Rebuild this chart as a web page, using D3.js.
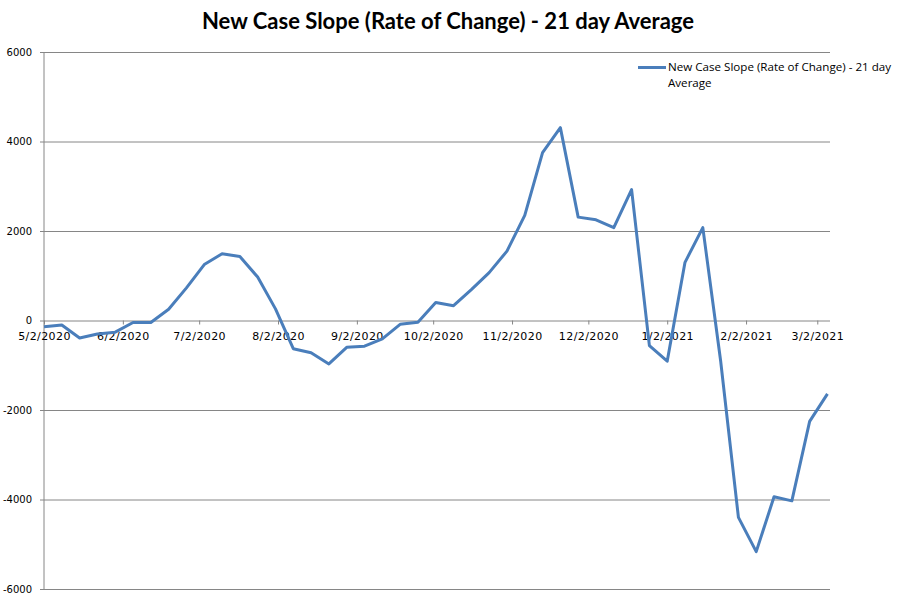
<!DOCTYPE html>
<html>
<head>
  <meta charset="utf-8">
  <title>New Case Slope</title>
  <script src="https://cdn.jsdelivr.net/npm/d3@7"></script>
  <style>
    body { margin: 0; background: #fff; }
    .title { font-family: Lato, "Open Sans", sans-serif; font-weight: bold; font-size: 22px; }
    .tick text { font-family: "DejaVu Sans", Verdana, sans-serif; fill: #000; }
    .y-axis .tick text { font-size: 10px; }
    .x-axis .tick text { font-size: 11px; letter-spacing: 0.4px; }
    .legend text { font-family: "Open Sans", sans-serif; font-size: 11.6px; }
  </style>
</head>
<body>
<script>
// weekly dates (m/d/yyyy) and the 21 day average slope
var weekDates = ["5/2/2020","5/9/2020","5/16/2020","5/23/2020","5/30/2020","6/6/2020","6/13/2020",
  "6/20/2020","6/27/2020","7/4/2020","7/11/2020","7/18/2020","7/25/2020","8/1/2020","8/8/2020",
  "8/15/2020","8/22/2020","8/29/2020","9/5/2020","9/12/2020","9/19/2020","9/26/2020","10/3/2020",
  "10/10/2020","10/17/2020","10/24/2020","10/31/2020","11/7/2020","11/14/2020","11/21/2020",
  "11/28/2020","12/5/2020","12/12/2020","12/19/2020","12/26/2020","1/2/2021","1/9/2021",
  "1/16/2021","1/23/2021","1/30/2021","2/6/2021","2/13/2021","2/20/2021","2/27/2021","3/6/2021"];
var slopeValues = [-140, -100, -390, -300, -260, -45, -45,
  250, 730, 1250, 1490, 1430, 970, 260, -630,
  -720, -970, -600, -575, -410, -85, -40, 400,
  330, 690, 1070, 1550, 2350, 3750, 4310,
  2310, 2250, 2075, 2925, -560, -910, 1300,
  2075, -900, -4400, -5165, -3940, -4030, -2255, -1640];
var xTickLabels = ["5/2/2020","6/2/2020","7/2/2020","8/2/2020","9/2/2020","10/2/2020",
  "11/2/2020","12/2/2020","1/2/2021","2/2/2021","3/2/2021"];
var yTickValues = [-6000, -4000, -2000, 0, 2000, 4000, 6000];
var seriesName = "New Case Slope (Rate of Change) - 21 day Average";

var width = 898, height = 603;
var parse = d3.timeParse("%-m/%-d/%Y");
var fmt = d3.timeFormat("%-m/%-d/%Y");

var data = weekDates.map(function(d, i) { return { date: parse(d), value: slopeValues[i] }; });

var svg = d3.select("body").append("svg")
  .attr("width", width)
  .attr("height", height);

var x = d3.scaleTime()
  .domain([parse("5/2/2020"), parse("3/7/2021")])
  .range([44, 830]);
var y = d3.scaleLinear()
  .domain([-6000, 6000])
  .range([589, 52]);

// title
svg.append("text")
  .attr("class", "title")
  .attr("x", 448)
  .attr("y", 29)
  .attr("text-anchor", "middle")
  .text(seriesName);

// horizontal gridlines + y axis (plain hyphen for negatives, like the original)
var yAxis = svg.append("g")
  .attr("class", "y-axis")
  .attr("transform", "translate(44,0)")
  .call(d3.axisLeft(y).tickValues(yTickValues).tickSize(4).tickPadding(8)
    .tickFormat(function(d) { return String(d); }));
yAxis.selectAll(".tick line").attr("stroke", "#868686");
yAxis.select(".domain").attr("stroke", "#868686").attr("d", "M0," + y(-6000) + "V" + y(6000));

svg.append("g")
  .selectAll("line")
  .data(yTickValues)
  .enter()
  .append("line")
  .attr("x1", 44)
  .attr("x2", 830)
  .attr("y1", function(d) { return y(d) + 0.5; })
  .attr("y2", function(d) { return y(d) + 0.5; })
  .attr("stroke", "#868686")
  .attr("stroke-width", 1);

// x axis on the zero line
var xAxis = svg.append("g")
  .attr("class", "x-axis")
  .attr("transform", "translate(0," + y(0) + ")")
  .call(d3.axisBottom(x).tickValues(xTickLabels.map(parse)).tickSize(4).tickPadding(8).tickFormat(fmt));
xAxis.selectAll(".tick line").attr("stroke", "#868686");
xAxis.select(".domain").remove();

// series
svg.append("path")
  .datum(data)
  .attr("fill", "none")
  .attr("stroke", "#4A7EBB")
  .attr("stroke-width", 3)
  .attr("stroke-linejoin", "round")
  .attr("d", d3.line().x(function(d) { return x(d.date); }).y(function(d) { return y(d.value); }));

// legend
var legend = svg.append("g").attr("class", "legend");
legend.append("line")
  .attr("x1", 638).attr("x2", 666)
  .attr("y1", 67.5).attr("y2", 67.5)
  .attr("stroke", "#4A7EBB")
  .attr("stroke-width", 3);
var lt = legend.append("text").attr("x", 668).attr("y", 71);
lt.append("tspan").attr("x", 668).text("New Case Slope (Rate of Change) - 21 day");
lt.append("tspan").attr("x", 668).attr("dy", 16).text("Average");
</script>
</body>
</html>
